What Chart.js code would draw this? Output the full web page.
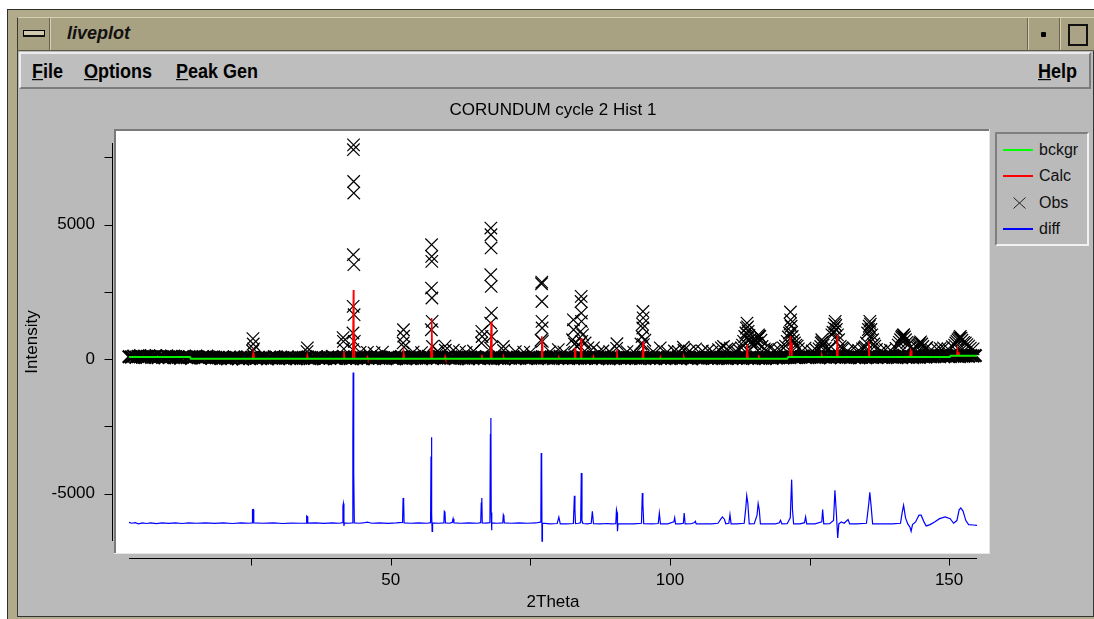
<!DOCTYPE html>
<html>
<head>
<meta charset="utf-8">
<title>liveplot</title>
<script src="https://cdn.jsdelivr.net/npm/chart.js@4.4.0/dist/chart.umd.min.js"></script>
<style>
  body { margin: 0; width: 1094px; height: 619px; background: #fff; position: relative; overflow: hidden;
         font-family: "Liberation Sans", Arial, Helvetica, sans-serif; }
  .abs { position: absolute; box-sizing: border-box; }
  #frame { left: 7px; top: 9px; width: 1087px; height: 610px; background: #b1aa8b;
           border-left: 1px solid #2e2e2e; border-top: 1px solid #2e2e2e; }
  #titlebar { left: 17px; top: 17px; width: 1077px; height: 34px; background: #a8a182;
              border-top: 1px solid #d4ceb4; border-left: 1px solid #3a3a30; border-bottom: 1px solid #5c5746; }
  .sep { width: 2px; height: 32px; top: 18px; border-left: 1px solid #6a654f; border-right: 1px solid #d4ceb4; }
  #content { left: 17px; top: 51px; width: 1077px; height: 566px; background: #bababa;
             border-left: 1px solid #3a3a3a; border-right: 1px solid #333; border-bottom: 1px solid #333; }
  #menubar { left: 19px; top: 52px; width: 1072px; height: 37px; background: #bebebe;
             border-top: 2px solid #ececec; border-left: 2px solid #ececec;
             border-bottom: 2px solid #7c7c7c; border-right: 2px solid #7c7c7c; }
  .menu { top: 61px; font-weight: bold; font-size: 18px; line-height: 20px; color: #000;
          transform: scaleY(1.15); white-space: nowrap; }
  #legend { left: 995px; top: 132px; width: 94px; height: 114px;
            border-top: 2px solid #7f7f7f; border-left: 2px solid #7f7f7f;
            border-bottom: 2px solid #f2f2f2; border-right: 2px solid #f2f2f2; }
  .swatch { left: 1003px; width: 30px; height: 2px; }
  .ltext { left: 1039px; font-size: 16px; line-height: 20px; color: #111; }
  canvas { position: absolute; left: 0; top: 0; }
</style>
</head>
<body>
<div id="frame" class="abs"></div>
<div id="titlebar" class="abs"></div>
<div class="abs sep" style="left:49px"></div>
<div class="abs" style="left:23px;top:30px;width:22px;height:7px;border:1px solid #000;background:#cfc9ad;border-bottom:2px solid #111"></div>
<div class="abs" style="left:67px;top:23px;font-weight:bold;font-style:italic;font-size:18px;line-height:20px;color:#111">liveplot</div>
<div class="abs sep" style="left:1027px"></div>
<div class="abs" style="left:1041px;top:32px;width:5px;height:5px;background:#000;border-radius:1px"></div>
<div class="abs sep" style="left:1059px"></div>
<div class="abs" style="left:1068px;top:24px;width:20px;height:22px;border:2px solid #111;background:#aaa385"></div>

<div id="content" class="abs"></div>
<div id="menubar" class="abs"></div>
<div class="abs menu" style="left:32px"><u>F</u>ile</div>
<div class="abs menu" style="left:84px"><u>O</u>ptions</div>
<div class="abs menu" style="left:176px"><u>P</u>eak Gen</div>
<div class="abs menu" style="left:1038px"><u>H</u>elp</div>

<div id="legend" class="abs"></div>
<div class="abs swatch" style="top:149px;background:#00ff00"></div>
<div class="abs ltext" style="top:140px">bckgr</div>
<div class="abs swatch" style="top:175px;background:#ff0000"></div>
<div class="abs ltext" style="top:166px">Calc</div>
<svg class="abs" style="left:1013px;top:197px" width="13" height="12">
  <line x1="0.5" y1="0.5" x2="12.5" y2="11.5" stroke="#222" stroke-width="1"/>
  <line x1="12.5" y1="0.5" x2="0.5" y2="11.5" stroke="#222" stroke-width="1"/>
</svg>
<div class="abs ltext" style="top:193px">Obs</div>
<div class="abs swatch" style="top:228px;background:#0000ff"></div>
<div class="abs ltext" style="top:219px">diff</div>

<canvas id="plot" width="1094" height="619"></canvas>

<script>
// axis limits and ticks
const xMin = 3.1, xMax = 155.0;
const yMin = -6760, yMax = 8030;
const xTickValues = [25, 50, 75, 100, 125, 150];
const yTickValues = [-5000, -2500, 0, 2500, 5000, 7500];

// observed counts on the scan grid (start 3.1, step 0.4 deg)
const scanStart = 3.1;
const scanStep = 0.4;
const obsBaseCounts = [
  90, 75,110, 65,100,120, 80, 55, 95,115, 70, 85,125, 60,105, 90, 50,115, 75,100,
  55, 90, 70, 35, 80,105, 55, 85, 40, 75,100, 65, 45, 90, 60,110, 70, 35, 80, 55,
  50, 25, 70, 45, 10, 60, 35, 80, 55, 30, 65,  5, 45, 75, 20, 50, 85, 35, 60, 25,
  40, 70, 15, 55, 30, 90, 45, 20, 65, 50, 35, 80, 25, 60, 40, 10, 70, 45, 30, 55,
  75, 20, 50, 35, 85, 40, 60, 15, 45, 70, 30, 95, 50, 25, 65, 40, 80, 35, 55, 20,
  45, 65, 30, 80, 50, 10, 60, 40, 75, 25, 55, 90, 35, 70, 45, 20, 60, 85, 30, 50,
  25, 55, 75, 40, 15, 65, 50, 30, 85, 45, 60, 20, 70, 35, 95, 50, 25, 60, 40, 75,
  55, 30, 60, 90, 35, 50, 20, 70, 45, 80, 30, 55, 15, 65, 40, 85, 50, 35, 70, 25,
  65, 40, 20, 55, 75, 30, 60, 45, 10, 70, 50, 35, 90, 25, 55, 40, 75, 60, 30, 45,
  30, 70, 50, 25, 60, 85, 40, 55, 30, 75, 20, 65, 45, 95, 35, 50, 70, 25, 55, 40,
  80, 35, 55, 70, 20, 45, 65, 30, 85, 50, 40, 60, 25, 75, 45, 15, 60, 90, 35, 55,
  45, 60, 25, 50, 80, 35, 70, 40, 55, 20, 65, 45, 85, 30, 60, 50, 25, 75, 40, 65,
  20, 50, 75, 35, 60, 45, 90, 25, 55, 70, 35, 50, 15, 65, 80, 40, 55, 30, 70, 45,
  60, 25, 45, 85, 30, 55, 40, 70, 20, 60, 45, 75, 35, 50, 90, 25, 65, 40, 55, 30,
  50, 75, 35, 60, 45, 20, 70, 55, 30, 85, 40, 60, 70, 45, 90, 65, 55,100, 75, 60,
  65, 85,110, 55, 95, 70, 80,105, 75, 60, 90,125, 65, 85, 50,100, 75, 90,115, 80,
  95, 65, 80, 55,115, 70, 90, 50, 80,105, 60, 75, 95, 65, 85, 55,100, 80, 70,125,
  80,110, 65, 90, 60,100, 75,135, 70, 95, 85, 60,115, 80, 65,105, 90, 75,120, 85,
 120, 95,135,105,150, 90,125,110,100,140,115,130, 95,145,110,120,105,135,115,130
];

// observed points above the background band
const obsPeakTheta = [
  25.25, 25.3, 25.35, 25.42, 35.0, 35.05, 41.45, 41.5, 41.58,
  43.18, 43.22, 43.25, 43.28, 43.3, 43.32, 43.34, 43.36, 43.38, 43.42, 43.46, 44.5, 45.8, 47.0, 48.5,
  52.2, 52.26, 52.3, 52.36, 54.0, 55.5,
  57.26, 57.28, 57.3, 57.32, 57.34, 57.36, 57.4, 57.46, 58.4, 59.7, 59.76, 61.2, 62.3, 63.5, 64.8,
  66.25, 66.3, 66.35, 67.85, 67.88, 67.9, 67.92, 67.94, 67.96, 67.98, 68.02, 68.06, 70.15, 70.2, 72.3, 73.8, 75.0,
  76.9, 77.0, 77.04, 77.06, 77.08, 77.1, 77.14, 78.5, 80.0, 81.0,
  82.55, 82.7, 82.74, 82.9, 83.3, 83.7, 84.0, 84.08, 84.1, 84.12, 84.15, 84.2, 84.35, 84.8, 85.3,
  86.3, 87.2, 88.0, 89.2, 90.45, 90.5, 92.3, 93.5,
  94.8, 95.0, 95.1, 95.14, 95.16, 95.2, 95.24, 95.5, 97.0, 98.26, 99.5, 100.8, 101.5, 102.4, 102.5, 103.5,
  104.6, 105.8, 106.8, 107.6,
  108.7, 109.2, 109.6, 110.2, 110.8, 111.8, 112.4, 112.8,
  113.0, 113.2, 113.4, 113.6, 113.7, 113.8, 113.9, 114.0, 114.15, 114.3, 114.5, 114.7, 114.95, 115.2,
  115.4, 115.6, 115.75, 115.85, 115.95, 116.1, 116.3, 116.5, 116.9,
  117.2, 118.0, 118.8, 119.5, 120.3,
  120.7, 121.0, 121.2, 121.4, 121.5, 121.58, 121.62, 121.7, 121.8, 121.9, 122.1, 122.3, 122.55, 122.8, 123.0,
  124.2, 125.5, 126.2,
  126.7, 127.0, 127.1, 127.2, 127.3, 127.45, 127.8, 128.2, 128.5, 128.8, 129.0, 129.2, 129.4, 129.5, 129.6, 129.7,
  129.8, 130.0, 130.2, 130.5, 130.8, 131.0, 131.8, 132.9, 133.8,
  134.5, 134.8, 135.0, 135.2, 135.4, 135.55, 135.7, 135.8, 135.9, 136.0, 136.15, 136.3, 136.5, 136.7, 137.0,
  137.8, 138.6, 139.5, 140.5,
  140.9, 141.1, 141.3, 141.5, 141.6, 141.75, 141.86, 142.0, 142.2, 142.45, 142.7, 143.0, 143.5, 144.2, 144.4,
  144.6, 144.75, 144.9, 145.1, 145.3, 145.8, 146.0, 146.8, 147.8, 148.4, 149.0, 149.8, 150.6,
  151.0, 151.2, 151.4, 151.6, 151.8, 151.9, 152.0, 152.15, 152.3, 152.6, 152.9, 153.2, 153.5, 153.8, 154.3
];
const obsPeakCounts = [
  300, 760, 560, 380, 280, 420, 800, 660, 380,
  350, 970, 1960, 3880, 7780, 7960, 6600, 6170, 3510, 1650, 660, 250, 250, 230, 260,
  600, 1090, 850, 450, 260, 240,
  1090, 2640, 4250, 3815, 3630, 2270, 1400, 470, 300, 480, 330, 330, 280, 250, 300,
  600, 1030, 840, 410, 1340, 3135, 4870, 4620, 4130, 2700, 1710, 840, 470, 320, 280, 260, 250,
  700, 2800, 2860, 2140, 1400, 1155, 660, 270, 350, 260,
  720, 1460, 1090, 560, 480, 520, 1030, 2140, 2330, 1710, 1400, 660, 900, 600, 420,
  420, 260, 300, 280, 400, 570, 280, 260,
  560, 840, 1300, 1155, 1770, 1530, 540, 700, 280, 420, 270, 300, 280, 440, 330, 300,
  380, 300, 320, 280,
  350, 420, 470, 380, 410, 300, 340, 420,
  520, 660, 840, 970, 1150, 1340, 1200, 1030, 880, 720, 640, 560, 480, 560,
  700, 600, 760, 900, 860, 840, 700, 470, 380,
  330, 410, 320, 360, 420,
  480, 660, 820, 970, 1300, 1750, 1460, 1220, 1000, 840, 700, 600, 520, 480, 380,
  410, 300, 340,
  380, 470, 600, 720, 640, 520, 400, 330, 380, 470, 900, 1000, 1150, 1300, 1400, 1250,
  1100, 900, 720, 470, 420, 380, 300, 410, 320,
  380, 420, 460, 600, 970, 1100, 1220, 1400, 1300, 1100, 900, 720, 560, 480, 360,
  300, 350, 330, 400,
  520, 620, 720, 800, 840, 880, 906, 820, 720, 620, 540, 420, 380, 450, 500,
  540, 600, 640, 560, 470, 380, 430, 350, 380, 400, 420, 380, 460,
  520, 600, 660, 720, 760, 800, 843, 780, 700, 620, 600, 540, 480, 410, 380
];

// calculated pattern
const calcTheta = [
  3.1, 14.0, 14.2, 25.22, 25.35, 25.48, 34.93, 35.05, 35.17, 41.48, 41.6, 41.72,
  43.18, 43.3, 43.38, 43.43, 43.5, 45.7, 45.8, 45.9, 52.18, 52.3, 52.42,
  57.08, 57.18, 57.24, 57.32, 57.44, 59.62, 59.72, 59.82, 66.2, 66.3, 66.4,
  67.8, 67.86, 67.92, 67.98, 68.1, 70.1, 70.2, 70.3,
  76.95, 77.04, 77.1, 77.14, 77.24, 80.0, 80.1, 80.2, 82.9, 83.0, 83.1, 84.0, 84.1, 84.2,
  86.2, 86.3, 86.4, 90.4, 90.5, 90.6, 95.05, 95.18, 95.3, 98.2, 98.3, 98.4, 102.4, 102.5, 102.6,
  113.7, 113.85, 114.0, 115.8, 115.9, 116.0, 121.0, 121.2, 121.45, 121.55, 121.62, 121.7, 121.85,
  127.1, 127.2, 127.3, 129.75, 129.85, 129.92, 130.0, 130.12,
  135.5, 135.62, 135.75, 142.95, 143.05, 143.12, 143.2, 143.32, 150.1, 150.3,
  151.35, 151.5, 151.6, 151.72, 151.85, 155.0
];
const calcCounts = [
  78, 78, 15, 15, 230, 15, 15, 150, 15, 15, 290, 15,
  15, 2570, 600, 900, 15, 15, 80, 15, 15, 250, 15,
  15, 470, 200, 1525, 15, 15, 100, 15, 15, 165, 15,
  15, 660, 300, 1400, 15, 15, 80, 15,
  15, 845, 400, 680, 15, 15, 60, 15, 15, 410, 15, 15, 785, 15,
  15, 100, 15, 15, 350, 15, 15, 660, 15, 15, 80, 15, 15, 80, 15,
  15, 535, 15, 15, 150, 15, 15, 78, 78, 845, 300, 610, 78,
  78, 150, 78, 78, 420, 150, 906, 78,
  78, 658, 78, 78, 240, 100, 323, 78, 78, 126,
  126, 350, 140, 270, 126, 126
];

// background
const bgTheta = [3.1, 14.0, 14.2, 121.0, 121.2, 150.1, 150.3, 155.0];
const bgCounts = [78, 78, 15, 15, 78, 78, 126, 126];

// difference curve (shifted down)
const diffTheta = [
  3.1, 3.6, 4.2, 4.8, 5.5, 6.2, 7.0, 8.0, 9.0, 10.2, 11.4, 12.6, 13.8, 15.2, 16.8, 18.4, 20.0, 21.6, 23.2, 24.6,
  25.15, 25.22, 25.38, 25.45, 27.0, 29.0, 30.6, 32.2, 33.8, 34.85, 34.92, 35.05, 35.12, 36.5, 38.0, 39.5, 40.8,
  41.35, 41.42, 41.5, 41.6, 41.68, 42.5, 43.1, 43.2, 43.25, 43.33, 43.38, 43.46, 44.3, 45.0, 45.8, 46.6, 48.0, 49.5, 51.0,
  52.1, 52.2, 52.3, 52.38, 53.5, 55.0, 56.5, 57.12, 57.2, 57.28, 57.34, 57.4, 57.48, 58.5,
  59.5, 59.58, 59.7, 59.78, 60.5, 61.0, 61.15, 61.3, 62.5, 64.0, 65.5, 66.1, 66.2, 66.3, 66.38, 67.0,
  67.75, 67.84, 67.92, 67.98, 68.04, 68.12, 69.0, 70.05, 70.15, 70.25, 70.33, 71.5, 73.0, 74.5, 76.0,
  76.75, 76.88, 76.94, 77.02, 77.08, 77.16, 78.5, 79.8, 80.1, 80.35, 81.5,
  82.7, 82.88, 82.98, 83.08, 83.6, 84.0, 84.12, 84.24, 84.4, 85.2, 85.9, 86.1, 86.3, 87.5, 88.8, 89.5,
  90.3, 90.42, 90.52, 90.6, 90.7, 92.0, 93.5, 94.9, 95.05, 95.15, 95.3, 96.8, 97.9, 98.1, 98.3, 99.6,
  100.7, 100.85, 101.0, 101.8, 102.4, 102.55, 102.72, 103.8, 104.4, 104.55, 104.7, 106.0, 107.5,
  108.6, 109.1, 109.4, 109.75, 110.0, 110.55, 110.75, 110.95, 112.0, 113.3, 113.6, 113.75, 113.95, 114.2,
  115.1, 115.6, 115.8, 116.0, 116.2, 117.5, 118.9, 119.6, 119.8, 120.05, 121.0, 121.55, 121.8, 121.95, 122.15,
  123.3, 124.1, 124.3, 124.5, 126.0, 127.2, 127.35, 127.55, 128.6, 129.3, 129.55, 129.8, 130.05, 130.25,
  130.7, 131.2, 131.9, 132.2, 133.5, 135.2, 135.6, 135.8, 136.05, 136.3, 138.0, 139.8,
  141.3, 141.6, 141.85, 142.2, 142.6, 143.0, 143.2, 143.45, 144.0, 144.6, 145.0, 145.5, 145.9,
  146.6, 147.4, 148.3, 149.3, 150.2, 150.8, 151.4, 151.8, 152.1, 152.5, 153.0, 153.5, 154.3, 155.0
];
const diffCounts = [
  -6070, -6100, -6080, -6120, -6090, -6110, -6085, -6115, -6090, -6105, -6085, -6110, -6090, -6100, -6085, -6105, -6090, -6110, -6090, -6100,
  -6090, -5600, -5590, -6085, -6100, -6090, -6110, -6095, -6100, -6095, -5830, -5850, -6095, -6090, -6105, -6090, -6100,
  -6080, -5450, -5370, -6200, -6090, -6100, -6090, -3000, -500, -500, -4230, -6090, -6100, -6090, -6060, -6100, -6090, -6105, -6090,
  -6070, -5160, -5330, -6090, -6100, -6090, -6100, -6080, -3620, -2900, -5750, -6400, -6090, -6100,
  -6090, -5660, -5700, -6090, -6100, -6070, -5930, -6090, -6100, -6090, -6100, -6080, -5350, -5160, -6090, -6095,
  -6080, -2810, -2190, -5700, -6360, -6090, -6100, -6090, -5790, -5850, -6090, -6100, -6090, -6100, -6090,
  -6060, -5800, -3490, -3860, -6770, -6100, -6120, -6110, -5870, -6125, -6120,
  -6110, -5080, -5600, -6110, -6100, -6080, -4230, -6000, -6110, -6125, -6100, -5660, -6120, -6125, -6110, -6125,
  -6120, -5600, -5700, -6400, -6120, -6125, -6120, -6100, -4980, -5350, -6120, -6125, -6110, -5720, -6125, -6120,
  -6050, -5900, -6125, -6120, -6100, -5720, -6125, -6120, -6070, -6030, -6125, -6125, -6120,
  -6100, -5950, -5866, -5950, -6120, -6100, -5780, -6125, -6120, -6100, -5500, -5074, -5350, -6125,
  -6120, -5800, -5370, -5600, -6125, -6120, -6125, -6080, -5990, -6125, -6120, -5900, -4480, -5600, -6125,
  -6120, -6080, -5866, -6125, -6120, -6050, -5594, -6125, -6120, -6000, -4877, -5700, -6646, -6125,
  -6050, -6100, -5960, -6125, -6120, -6100, -5400, -4951, -5500, -6125, -6120, -6125,
  -6100, -5700, -5434, -5900, -6125, -6250, -6400, -6150, -6050, -5800, -5800, -6050, -6200,
  -6150, -6050, -5930, -5866, -5930, -6100, -6000, -5600, -5532, -5650, -6000, -6150, -6165, -6178
];

function pairs(xs, ys) {
  return xs.map(function (x, i) { return { x: x, y: ys[i] }; });
}

let obsData = obsBaseCounts.map(function (c, i) {
  return { x: scanStart + scanStep * i, y: c };
}).concat(pairs(obsPeakTheta, obsPeakCounts));

const fontFamily = '"Liberation Sans", Arial, Helvetica, sans-serif';
const textFont = { family: fontFamily, size: 17, weight: 'normal' };

// white plot box behind the data, axes drawn outside of it
let plotBox = {
  id: 'plotBox',
  beforeDraw: function (chart) {
    let a = chart.chartArea, ctx = chart.ctx;
    let l = a.left - 13, t = a.top - 12, r = a.right + 12, b = a.bottom + 12;
    ctx.save();
    ctx.fillStyle = '#ffffff';
    ctx.fillRect(l, t, r - l, b - t);
    ctx.fillStyle = '#7a7a7a';
    ctx.fillRect(l - 2, t - 2, r - l + 2, 2);
    ctx.fillRect(l - 2, t - 2, 2, b - t + 2);
    ctx.fillStyle = '#e6e6e6';
    ctx.fillRect(l - 2, b, r - l + 3, 1);
    ctx.fillRect(r, t - 2, 1, b - t + 3);
    ctx.restore();
  },
  afterDraw: function (chart) {
    let a = chart.chartArea, ctx = chart.ctx;
    let sx = chart.scales.x, sy = chart.scales.y;
    ctx.save();
    ctx.strokeStyle = '#000';
    ctx.lineWidth = 1;
    ctx.beginPath();
    let yb = a.bottom + 17.5;
    ctx.moveTo(a.left, yb);
    ctx.lineTo(a.right, yb);
    sx.ticks.forEach(function (t) {
      let p = Math.round(sx.getPixelForValue(t.value)) + 0.5;
      ctx.moveTo(p, yb);
      ctx.lineTo(p, yb + 7);
    });
    let xl = a.left - 16.5;
    ctx.moveTo(xl, a.top);
    ctx.lineTo(xl, a.bottom);
    sy.ticks.forEach(function (t) {
      let p = Math.round(sy.getPixelForValue(t.value)) + 0.5;
      ctx.moveTo(xl, p);
      ctx.lineTo(xl - 8, p);
    });
    ctx.stroke();
    ctx.restore();
  }
};

var ctxPlot = document.getElementById('plot').getContext('2d');
var livePlot = new Chart(ctxPlot, {
  type: 'scatter',
  data: {
    datasets: [{
      label: 'bckgr',
      data: pairs(bgTheta, bgCounts),
      showLine: true,
      borderColor: '#00ee00',
      borderWidth: 2,
      pointRadius: 0,
      clip: false
    }, {
      label: 'Calc',
      data: pairs(calcTheta, calcCounts),
      showLine: true,
      borderColor: '#ff0000',
      borderWidth: 1.5,
      pointRadius: 0,
      clip: false
    }, {
      label: 'Obs',
      data: obsData,
      showLine: false,
      pointStyle: 'crossRot',
      pointRadius: 8.8,
      // the dense background band is drawn with heavier strokes
      pointBorderWidth: function (c) { return c.dataIndex < obsBaseCounts.length ? 2.2 : 1.2; },
      borderColor: '#000',
      backgroundColor: '#000',
      clip: false
    }, {
      label: 'diff',
      data: pairs(diffTheta, diffCounts),
      showLine: true,
      borderColor: '#0000ff',
      borderWidth: 1.2,
      pointRadius: 0,
      clip: false
    }]
  },
  options: {
    responsive: false,
    animation: false,
    devicePixelRatio: 1,
    layout: { padding: { left: 18, right: 117, top: 0, bottom: 0 } },
    plugins: {
      legend: { display: false },
      tooltip: { enabled: false },
      title: {
        display: true,
        text: 'CORUNDUM cycle 2 Hist 1',
        fullSize: false,
        color: '#000',
        font: textFont,
        padding: { top: 100, bottom: 22.6 }
      }
    },
    scales: {
      x: {
        type: 'linear',
        min: xMin,
        max: xMax,
        afterFit: function (s) { s.height = 78; },
        afterBuildTicks: function (s) { s.ticks = xTickValues.map(function (v) { return { value: v }; }); },
        grid: { display: false, drawTicks: false },
        border: { display: false },
        ticks: {
          autoSkip: false, maxRotation: 0, padding: 29, color: '#000', font: textFont,
          callback: function (v) { return v % 50 === 0 ? String(v) : ''; }
        },
        title: { display: true, text: '2Theta', color: '#000', font: textFont, padding: { top: 0, bottom: 6 } }
      },
      y: {
        type: 'linear',
        min: yMin,
        max: yMax,
        afterFit: function (s) { s.width = 111; },
        afterBuildTicks: function (s) { s.ticks = yTickValues.map(function (v) { return { value: v }; }); },
        grid: { display: false, drawTicks: false },
        border: { display: false },
        ticks: {
          autoSkip: false, padding: 34, color: '#000', font: textFont,
          callback: function (v) { return v % 5000 === 0 ? String(v) : ''; }
        },
        title: { display: true, text: 'Intensity', color: '#000', font: textFont, padding: { top: 4, bottom: 0 } }
      }
    }
  },
  plugins: [plotBox]
});
</script>
</body>
</html>
